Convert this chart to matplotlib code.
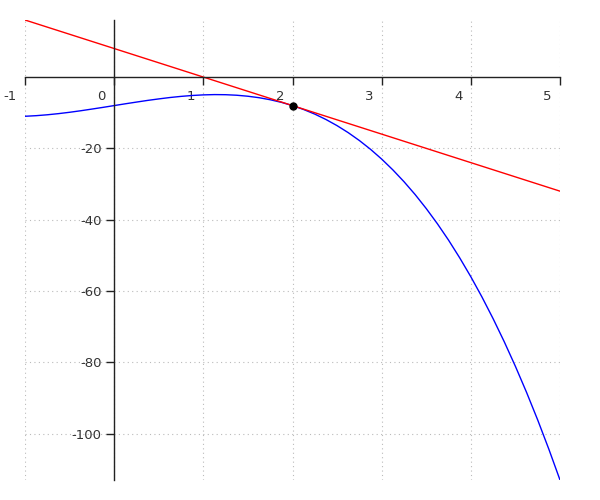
import matplotlib
matplotlib.use("Agg")
import numpy as np
import matplotlib.pyplot as plt
import matplotlib.transforms as mtransforms

# curve values, every 0.125 in x
curve_x = np.linspace(-1, 5, 49)
curve_y = [-11.0, -10.83, -10.58, -10.26, -9.88, -9.45, -8.98, -8.50,
           -8.0, -7.50, -7.02, -6.55, -6.13, -5.74, -5.42, -5.17,
           -5.0, -4.92, -4.95, -5.10, -5.38, -5.79, -6.36, -7.09,
           -8.0, -9.10, -10.39, -11.90, -13.63, -15.59, -17.80, -20.26,
           -23.0, -26.02, -29.33, -32.94, -36.88, -41.14, -45.73, -50.69,
           -56.0, -61.69, -67.77, -74.24, -81.13, -88.43, -96.17, -104.36,
           -113.0]

# tangent line end points
tan_x = [-1, 5]
tan_y = [16, -32]

# point of tangency
pt_x = [2]
pt_y = [-8]

x_ticks = [-1, 0, 1, 2, 3, 4, 5]
y_ticks = [-100, -80, -60, -40, -20]

fig = plt.figure(figsize=(6, 5), dpi=100)
ax = fig.add_axes([25 / 600, 20 / 500, 535 / 600, 460 / 500])

ax.plot(curve_x, curve_y, color="blue", lw=1)
ax.plot(tan_x, tan_y, color="red", lw=1)
ax.plot(pt_x, pt_y, "o", color="black", ms=5, zorder=5)

ax.set_xlim(-1, 5)
ax.set_ylim(-113, 16)

# axes through the origin
ax.spines["left"].set_position(("data", 0))
ax.spines["bottom"].set_position(("data", 0))
ax.spines["top"].set_visible(False)
ax.spines["right"].set_visible(False)
for s in ["left", "bottom"]:
    ax.spines[s].set_color("#222222")
    ax.spines[s].set_linewidth(1)

ax.set_xticks(x_ticks)
ax.set_yticks(y_ticks)
ax.set_xticklabels([str(t) for t in x_ticks])
ax.set_yticklabels([str(t) for t in y_ticks])
ax.tick_params(axis="both", direction="out", length=5.5, width=1,
               color="#222222", labelcolor="#333333", labelsize=9.5)
ax.tick_params(axis="x", pad=3.5)

# x labels sit left of their tick
offset = mtransforms.ScaledTranslation(-6 / 72, 0, fig.dpi_scale_trans)
for lbl in ax.get_xticklabels():
    lbl.set_horizontalalignment("right")
    lbl.set_transform(lbl.get_transform() + offset)

ax.grid(True, linestyle=(0, (1, 3)), color="#bbbbbb", lw=0.8)
ax.set_axisbelow(True)

fig.savefig("out.png", dpi=100)
